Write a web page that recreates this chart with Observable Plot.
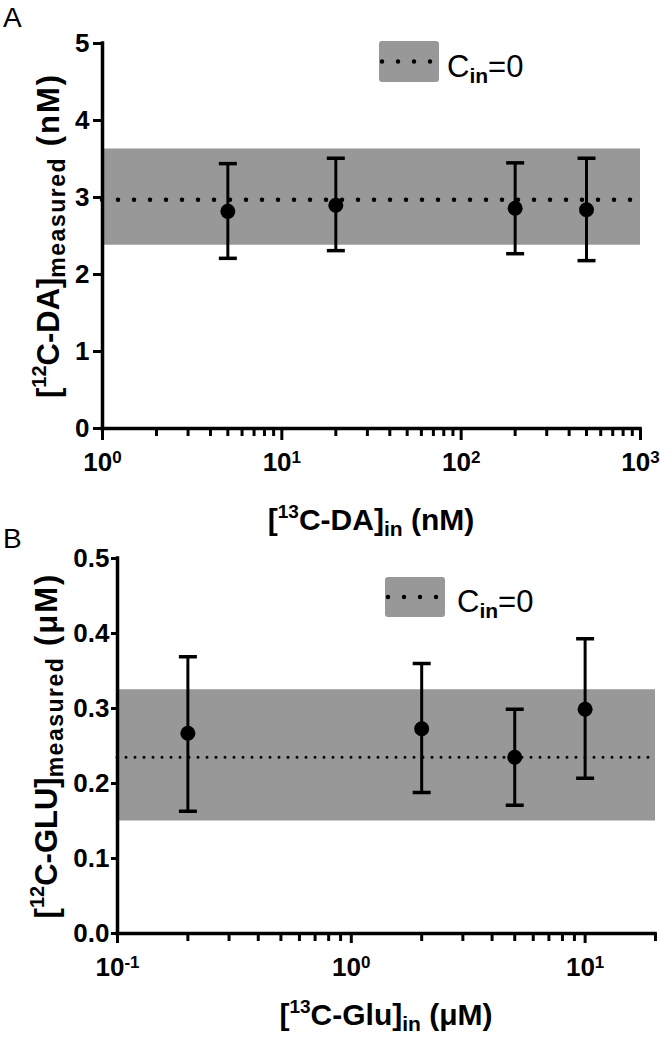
<!DOCTYPE html>
<html><head><meta charset="utf-8">
<script src="https://cdn.jsdelivr.net/npm/d3@7"></script>
<script src="https://cdn.jsdelivr.net/npm/@observablehq/plot@0.6"></script>
<style>
body{margin:0;background:#fff;}
#chart{width:660px;}
#chart svg{display:block;}
</style></head><body><div id="chart"></div>
<script>
// ---- Panel A: dopamine ----
const concA = [5, 20, 200, 500];
const meanA = [2.82, 2.90, 2.86, 2.84];
const lowA = [2.21, 2.31, 2.27, 2.18];
const highA = [3.44, 3.51, 3.45, 3.51];
const bandA = [2.38, 3.63];
const blankA = 2.97;
const xDomainA = [1, 1000];
const yDomainA = [0, 5];
const yTicksA = [0, 1, 2, 3, 4, 5];
const xMajorA = [1, 10, 100, 1000];

// ---- Panel B: glutamate ----
const concB = [0.2, 2, 5, 10];
const meanB = [0.267, 0.273, 0.235, 0.299];
const lowB = [0.163, 0.188, 0.171, 0.207];
const highB = [0.369, 0.360, 0.299, 0.393];
const bandB = [0.15, 0.325];
const blankB = 0.235;
const xDomainB = [0.1, 20];
const yDomainB = [0, 0.5];
const yTicksB = [0, 0.1, 0.2, 0.3, 0.4, 0.5];
const xMajorB = [0.1, 1, 10];

const FONT = "'Liberation Sans', Arial, Helvetica, sans-serif";
const GRAY = "#989898";

const capSymbol = {
  draw(ctx, size) {
    const r = Math.sqrt(size / Math.PI);
    ctx.moveTo(-r, 0); ctx.lineTo(r, 0);
  }
};

function buildPanel(c) {
  const pts = c.conc.map((x, i) => ({x, mean: c.mean[i], lo: c.low[i], hi: c.high[i]}));
  const [d0, d1] = c.xDomain;
  const minor = [];
  c.xMajor.forEach(m => { for (let k = 2; k <= 9; k++) { const v = m * k; if (v > d0 && v <= d1 * 1.0001) minor.push(v); } });
  const svg = Plot.plot({
    width: 660, height: c.height,
    marginLeft: c.ml, marginRight: c.mr, marginTop: c.mt, marginBottom: c.mb,
    x: {type: "log", domain: c.xDomain, label: null},
    y: {domain: c.yDomain, label: null},
    style: {fontFamily: FONT, background: "white", color: "black", overflow: "visible"},
    marks: [
      Plot.rect([c.band], {x1: () => d0, x2: () => d1, y1: d => d[0], y2: d => d[1], fill: GRAY}),
      Plot.ruleY([c.blank], {x1: () => d0, x2: () => d1, stroke: "black", strokeWidth: c.dotW, strokeDasharray: c.dash, strokeLinecap: "round"}),
      Plot.ruleX(pts, {x: "x", y1: "lo", y2: "hi", stroke: "black", strokeWidth: 3}),
      Plot.dot(pts, {x: "x", y: "hi", symbol: capSymbol, r: 9, stroke: "black", fill: "none", strokeWidth: 3.5}),
      Plot.dot(pts, {x: "x", y: "lo", symbol: capSymbol, r: 9, stroke: "black", fill: "none", strokeWidth: 3.5}),
      Plot.dot(pts, {x: "x", y: "mean", r: 7.5, fill: "black", stroke: "none"}),
      Plot.axisY({ticks: c.yTicks, tickSize: c.yTickSize, tickPadding: c.yTickPad, strokeWidth: 3,
        tickFormat: c.yFmt, fontSize: 26, fontWeight: "bold"}),
      Plot.axisX({ticks: minor, tickSize: c.minorSize, tickFormat: () => "", strokeWidth: 3}),
      Plot.axisX({ticks: c.xMajor, tickSize: c.majorSize, tickPadding: c.xTickPad, strokeWidth: 3,
        tickFormat: d => String(Math.round(Math.log10(d))), fontSize: 26, fontWeight: "bold"}),
      Plot.ruleY([c.yDomain[0]], {x1: () => d0, x2: () => d1, stroke: "black", strokeWidth: 3.5, strokeLinecap: "square"}),
      Plot.ruleX([d0], {y1: () => c.yDomain[0], y2: () => c.yDomain[1], stroke: "black", strokeWidth: 3.5, strokeLinecap: "square"})
    ]
  });
  const s = d3.select(svg);
  // superscript exponents for x tick labels
  s.selectAll('g[aria-label="x-axis tick label"] text').each(function() {
    const t = this.textContent;
    if (!t) return;
    const el = d3.select(this);
    el.text("10");
    el.append("tspan").attr("dy", -8).attr("font-size", 17).text(t);
  });
  // panel letter
  s.append("text").attr("x", 3).attr("y", c.letterY).attr("text-anchor", "start")
    .attr("font-size", 28).attr("font-family", FONT).text(c.letter);
  // legend
  const lg = s.append("g");
  lg.append("rect").attr("x", c.legX).attr("y", c.legY).attr("width", 60).attr("height", c.legH).attr("rx", 3).attr("fill", GRAY);
  lg.append("line").attr("x1", c.legX + 3).attr("x2", c.legX + 57).attr("y1", c.legY + c.legH / 2).attr("y2", c.legY + c.legH / 2)
    .attr("stroke", "black").attr("stroke-width", 4.5).attr("stroke-dasharray", "0 16").attr("stroke-linecap", "round");
  const lt = lg.append("text").attr("x", c.legX + c.legTextDx).attr("y", c.legY + c.legH / 2 + 15).attr("text-anchor", "start")
    .attr("font-family", FONT).attr("font-size", 31);
  lt.append("tspan").text("C");
  lt.append("tspan").attr("font-size", 21).attr("font-weight", "bold").attr("dy", 6).text("in");
  lt.append("tspan").attr("dy", -6).text("=0");
  // x-axis title
  const xt = s.append("text").attr("x", (c.ml + 660 - c.mr) / 2).attr("y", c.xTitleY).attr("text-anchor", "middle")
    .attr("font-family", FONT).attr("font-weight", "bold").attr("font-size", 30);
  xt.append("tspan").text("[");
  xt.append("tspan").attr("font-size", 19).attr("dy", -12).text(c.xSup);
  xt.append("tspan").attr("dy", 12).text(c.xMain);
  xt.append("tspan").attr("font-size", 21).attr("dy", 6).text("in");
  xt.append("tspan").attr("dy", -6).text(" (" + c.unit + ")");
  // y-axis title
  const cy = (c.mt + c.height - c.mb) / 2;
  const yt = s.append("text").attr("transform", `translate(${c.yTitleX},${cy}) rotate(-90)`).attr("text-anchor", "middle")
    .attr("font-family", FONT).attr("font-weight", "bold").attr("font-size", 31);
  yt.append("tspan").text("[");
  yt.append("tspan").attr("font-size", 20).attr("dy", -13).text("12");
  yt.append("tspan").attr("dy", 13).text(c.yMain);
  yt.append("tspan").attr("font-size", 23).attr("dy", 6).attr("letter-spacing", 1.5).text("measured");
  yt.append("tspan").attr("dy", -6).attr("letter-spacing", 2).text(" (" + c.unit + ")");
  return svg;
}

const chart = document.getElementById("chart");
chart.appendChild(buildPanel({
  conc: concA, mean: meanA, low: lowA, high: highA, band: bandA, blank: blankA,
  xDomain: xDomainA, yDomain: yDomainA, yTicks: yTicksA, xMajor: xMajorA,
  height: 520, ml: 102, mr: 20, mt: 43, mb: 92,
  dotW: 4.5, dash: "0 16",
  yTickSize: 9, yTickPad: 4, yFmt: d => String(d),
  minorSize: 8, majorSize: 12, xTickPad: 12,
  letter: "A", letterY: 27, legX: 379, legY: 41, legH: 41, legTextDx: 68,
  xTitleY: 530, xSup: "13", xMain: "C-DA]", unit: "nM",
  yTitleX: 59, yMain: "C-DA]"
}));
chart.appendChild(buildPanel({
  conc: concB, mean: meanB, low: lowB, high: highB, band: bandB, blank: blankB,
  xDomain: xDomainB, yDomain: yDomainB, yTicks: yTicksB, xMajor: xMajorB,
  height: 520, ml: 117, mr: 5, mt: 38, mb: 107,
  dotW: 3, dash: "0 9",
  yTickSize: 6, yTickPad: 2, yFmt: d => d.toFixed(1),
  minorSize: 8, majorSize: 10, xTickPad: 14,
  letter: "B", letterY: 28, legX: 385, legY: 57, legH: 40, legTextDx: 72,
  xTitleY: 505, xSup: "13", xMain: "C-Glu]", unit: "μM",
  yTitleX: 57, yMain: "C-GLU]"
}));
</script>
</body></html>
